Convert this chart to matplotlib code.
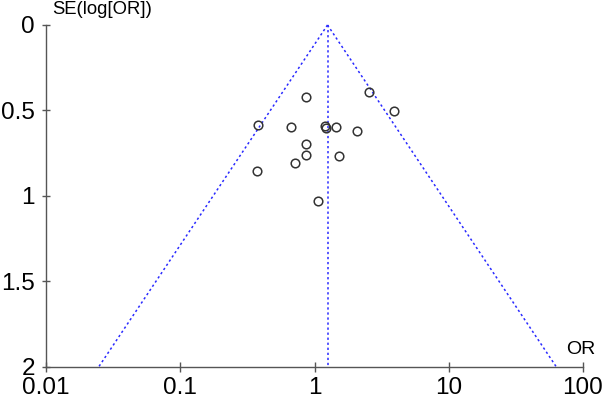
import numpy as np
import matplotlib
matplotlib.use("Agg")
from matplotlib import pyplot as plt

# study estimates
odds_ratio = [0.867, 2.53, 3.89, 0.382, 0.670, 1.19, 1.22, 1.44, 2.09,
              0.857, 0.857, 1.53, 0.710, 0.371, 1.06]
se_log_or = [0.424, 0.395, 0.504, 0.588, 0.600, 0.592, 0.605, 0.599, 0.623,
             0.695, 0.760, 0.766, 0.810, 0.853, 1.033]
pooled_or = 1.25
x_ticks = [0.01, 0.1, 1, 10, 100]
x_tick_labels = ["0.01", "0.1", "1", "10", "100"]
y_ticks = [0, 0.5, 1, 1.5, 2]
y_tick_labels = ["0", "0.5", "1", "1.5", "2"]

plt.rcParams["font.family"] = ["Liberation Sans", "DejaVu Sans"]

fig = plt.figure(figsize=(6.03, 3.95), dpi=100)
ax = fig.add_axes([46 / 603, 1 - 366.5 / 395, 537 / 603, 341.5 / 395])

# funnel limits (95% pseudo confidence)
se_max = 2.0
se_line = np.array([0.0, se_max])
lo = np.exp(np.log(pooled_or) - 1.96 * se_line)
hi = np.exp(np.log(pooled_or) + 1.96 * se_line)
line_kw = dict(color="#2a2aff", ls=(0, (1.5, 1.8)), lw=1.1, clip_on=False)
ax.plot(lo, se_line, **line_kw)
ax.plot(hi, se_line, **line_kw)
ax.plot([pooled_or, pooled_or], [0, se_max], **line_kw)

ax.plot(odds_ratio, se_log_or, ls="none", marker="o", ms=6.2,
        mfc="none", mec="#333333", mew=1.1)

ax.set_xscale("log")
ax.set_xlim(0.01, 100)
ax.set_ylim(2, 0)
ax.set_xticks(x_ticks)
ax.set_xticklabels(x_tick_labels)
ax.minorticks_off()
ax.set_yticks(y_ticks)
ax.set_yticklabels(y_tick_labels)

for side in ["top", "right"]:
    ax.spines[side].set_visible(False)
for side in ["left", "bottom"]:
    ax.spines[side].set_color("#555555")
    ax.spines[side].set_linewidth(1.0)

ax.tick_params(axis="x", direction="inout", length=7, width=1, color="#555555",
               labelsize=17.5, pad=4)
ax.tick_params(axis="y", direction="inout", length=6, width=1, color="#555555",
               labelsize=17.5, pad=5)

fig.text(52 / 603, 1 - 10 / 395, "SE(log[OR])", fontsize=13.3,
         ha="left", va="center")
fig.text(566 / 603, 1 - 350 / 395, "OR", fontsize=14,
         ha="left", va="center")

fig.savefig("out.png", dpi=100)
